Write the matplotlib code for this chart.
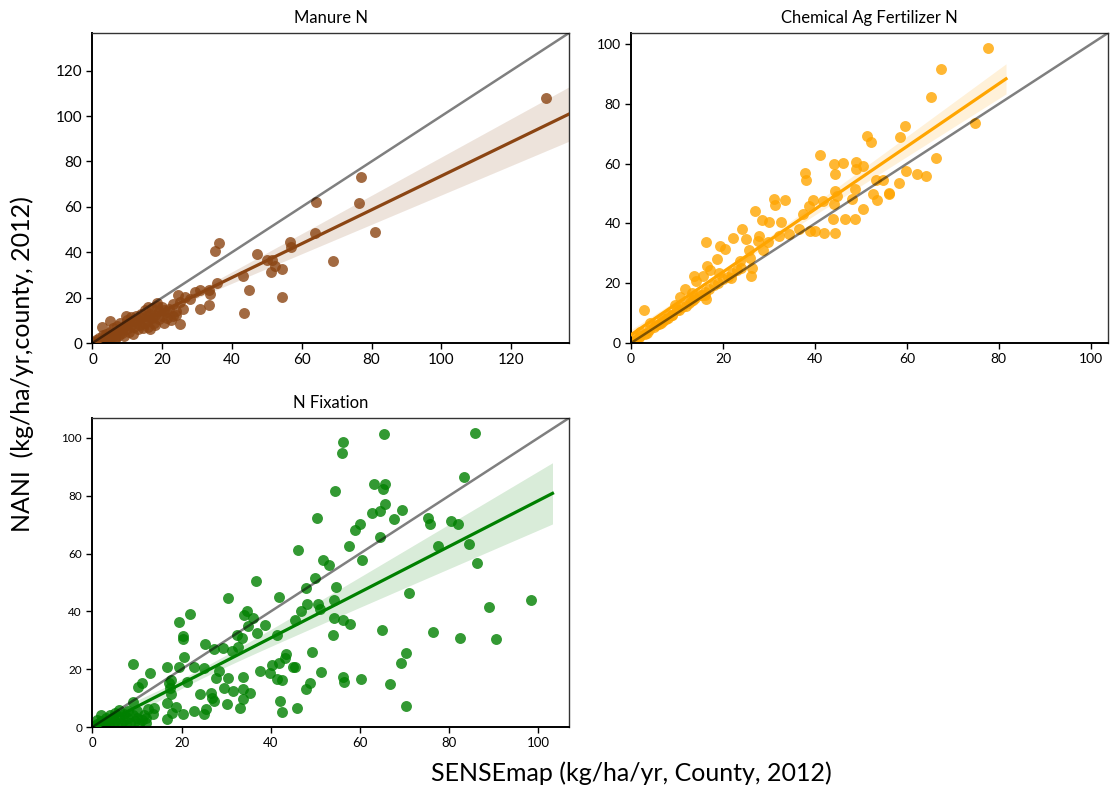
import numpy as np
import matplotlib
matplotlib.use("Agg")
import matplotlib.pyplot as plt

plt.rcParams['font.family'] = ['Lato', 'DejaVu Sans']

# ---------------- data ----------------
# Manure N
manure_x = [130.1, 77.1, 64.2, 76.3, 80.9, 63.8, 56.5, 56.8, 36.4, 35.2, 47.1, 68.9,
            50.1, 51.5, 52.4, 51.3, 54.2, 43.2, 35.7, 45.0, 54.2, 43.5, 33.3, 33.8,
            30.7, 29.5, 30.9, 33.3, 24.5, 26.6, 28.0, 25.1, 24.0, 18.4, 16.0, 9.5,
            5.0, 2.6, 16.5, 6.5,
            0.5, 1.0, 1.5, 2.0, 2.5, 3.0, 3.0, 3.5, 4.0, 4.0, 4.5, 5.0, 5.0, 5.5,
            6.0, 6.0, 6.5, 7.0, 7.0, 7.5, 8.0, 8.0, 8.5, 9.0, 9.0, 9.5, 10.0, 10.0,
            10.5, 11.0, 11.0, 11.5, 12.0, 12.0, 12.5, 13.0, 13.0, 13.5, 14.0, 14.0,
            14.5, 15.0, 15.0, 15.5, 16.0, 16.0, 16.5, 17.0, 17.0, 17.5, 18.0, 18.0,
            19.0, 19.0, 20.0, 20.0, 20.5, 21.0, 21.5, 22.0, 23.0, 23.0, 24.0, 25.0,
            26.0, 20.5, 18.5, 22.5]
manure_y = [107.8, 73.0, 62.2, 61.5, 49.1, 48.5, 44.7, 42.3, 44.1, 40.4, 39.1, 36.0,
            36.7, 36.7, 34.1, 31.3, 32.6, 29.6, 26.4, 23.5, 20.5, 13.1, 23.5, 21.7,
            23.5, 22.4, 15.0, 16.8, 21.2, 20.1, 19.3, 8.4, 12.4, 17.6, 15.8, 12.1,
            9.7, 6.9, 6.0, 2.1,
            0.3, 1.5, 0.5, 2.0, 1.0, 3.5, 1.5, 2.5, 4.0, 1.0, 3.0, 5.0, 2.0, 4.0,
            6.5, 3.0, 1.5, 5.0, 7.5, 3.5, 6.0, 9.0, 4.5, 7.0, 3.0, 8.5, 6.0, 10.0,
            5.0, 8.0, 11.5, 4.0, 7.0, 9.5, 12.0, 6.0, 10.0, 8.0, 13.0, 11.0,
            6.5, 9.0, 14.5, 12.0, 10.0, 7.0, 13.0, 11.0, 15.5, 9.0, 12.5, 8.0,
            14.0, 10.5, 12.0, 16.0, 9.0, 13.5, 11.0, 15.0, 12.0, 17.0, 14.0, 18.0,
            15.0, 14.5, 16.5, 10.0]

# Chemical Ag Fertilizer N
chem_x = [77.7, 67.4, 65.3, 74.9, 59.6, 58.4, 51.3, 52.2, 66.4, 41.0, 44.2, 46.0,
          49.0, 50.5, 49.0, 44.4, 59.7, 62.2, 64.1, 37.9, 38.0, 53.3, 54.7, 58.3,
          44.4, 48.7, 52.6, 56.0, 56.2, 53.4, 48.0, 44.7, 44.2, 41.7, 39.6, 38.6,
          50.4, 31.2, 33.5, 31.4, 27.0, 37.3, 43.9, 46.6, 48.7, 28.5, 30.0, 32.6,
          24.2, 36.6, 39.0, 40.0, 42.0, 44.4, 22.2, 25.1, 27.8, 27.7, 29.7, 32.2,
          34.4, 16.4, 19.3, 20.4, 25.6, 28.6, 18.7, 23.8, 25.8, 26.4, 26.1, 16.5,
          17.1, 13.7, 15.6, 14.2, 19.2, 21.7, 11.8, 13.3, 16.4, 16.0, 10.7, 9.6,
          8.2, 6.7, 2.8, 4.1, 2.0, 0.9,
          5.0, 6.0, 7.0, 8.0, 9.0, 10.0, 10.5, 11.0, 12.0, 12.5, 13.0, 13.5,
          14.0, 15.0, 15.5, 16.0, 17.0, 18.0, 19.0, 20.0, 21.0, 22.0, 23.0, 24.0,
          3.0, 1.5, 0.5, 4.0, 7.5, 9.0, 1.0, 2.0, 3.5, 5.5, 6.5]
chem_y = [98.8, 91.7, 82.4, 73.7, 72.5, 68.9, 69.4, 67.1, 61.9, 63.0, 60.0, 60.2,
          60.5, 59.2, 58.1, 56.5, 57.5, 56.6, 55.8, 56.9, 54.5, 54.7, 54.7, 53.7,
          50.9, 51.6, 50.0, 50.2, 49.8, 47.7, 48.3, 49.1, 46.6, 47.5, 47.8, 45.7,
          44.7, 48.2, 47.8, 46.2, 44.1, 43.2, 41.6, 41.5, 41.5, 41.3, 40.4, 40.5,
          38.1, 38.1, 37.4, 37.4, 36.8, 36.8, 35.2, 34.9, 35.7, 34.2, 33.8, 35.7,
          36.6, 33.9, 32.3, 31.5, 31.2, 31.2, 28.0, 27.3, 28.6, 25.1, 22.3, 25.8,
          24.3, 22.5, 22.5, 20.6, 23.4, 21.8, 18.0, 16.7, 14.7, 16.1, 15.5, 12.8,
          9.4, 8.3, 11.1, 6.6, 3.8, 2.1,
          5.5, 6.5, 7.5, 8.5, 9.5, 11.0, 11.0, 12.0, 12.5, 13.5, 14.0, 14.5,
          15.0, 16.0, 16.0, 17.0, 18.0, 19.5, 20.0, 21.5, 22.0, 23.5, 24.5, 25.0,
          3.0, 1.5, 0.5, 4.5, 8.0, 9.5, 1.0, 2.2, 3.5, 6.0, 6.8]

# N Fixation
fix_x = [85.8, 65.4, 56.2, 55.9, 54.5, 63.2, 65.7, 65.2, 83.3, 65.6, 62.6, 64.5,
         69.5, 67.7, 50.3, 60.1, 58.8, 75.2, 75.8, 80.5, 82.1, 64.4, 57.6, 77.4,
         84.5, 86.2, 46.0, 60.5, 51.7, 53.1, 36.7, 50.0, 47.8, 54.6, 71.0, 98.3,
         30.3, 41.9, 54.1, 48.2, 50.6, 51.1, 46.8, 34.6, 34.0, 36.0, 45.5, 54.1,
         56.1, 57.7, 38.6, 88.9, 76.4, 64.9, 82.4, 90.5, 21.9, 19.3, 20.4, 20.4,
         35.0, 32.4, 33.6, 36.9, 41.4, 54.0, 25.3, 27.3, 29.2, 31.2, 32.6, 20.6,
         9.2, 12.8, 16.7, 19.3, 22.8, 25.1, 11.0, 10.2, 17.6, 17.1, 21.2, 28.4,
         27.8, 30.4, 33.7, 37.5, 39.9, 40.3, 41.8, 43.4, 43.3, 44.9, 45.4, 49.3,
         51.3, 41.3, 42.6, 56.3, 56.4, 60.3, 66.8, 69.1, 70.4, 70.3, 48.9, 47.8,
         29.6, 31.5, 33.7, 35.4, 24.2, 26.6, 26.8, 27.3, 33.7, 42.1, 30.2, 33.1,
         42.5, 45.8, 25.4, 25.1, 22.7, 20.2, 16.8, 18.8, 17.8, 16.8, 13.8, 13.5,
         12.5, 9.2, 17.4, 17.6,
         1.0, 1.5, 2.0, 2.5, 3.0, 3.0, 3.5, 4.0, 4.0, 4.5, 5.0, 5.0, 5.5, 6.0,
         6.0, 6.5, 7.0, 7.0, 7.5, 8.0, 8.0, 8.5, 9.0, 9.5, 10.0, 10.0, 10.5,
         11.0, 11.5, 12.0, 12.0, 2.0, 1.0, 0.5]
fix_y = [101.8, 101.2, 98.6, 94.9, 81.8, 84.1, 84.2, 82.5, 86.5, 77.0, 73.9, 74.6,
         75.2, 71.8, 72.2, 70.2, 68.3, 72.4, 70.4, 71.4, 70.4, 65.9, 62.7, 62.5,
         63.4, 56.6, 61.4, 57.7, 57.9, 56.2, 50.6, 51.5, 48.1, 48.3, 46.3, 43.8,
         44.8, 45.1, 43.9, 42.5, 42.7, 40.9, 40.0, 40.0, 38.8, 37.7, 37.0, 37.6,
         36.9, 35.8, 35.4, 41.4, 32.7, 33.6, 30.8, 30.6, 39.1, 36.5, 31.5, 30.5,
         35.0, 31.9, 30.7, 32.4, 31.9, 31.9, 28.7, 26.9, 27.3, 26.3, 27.6, 24.3,
         21.8, 18.7, 20.6, 20.9, 20.9, 20.3, 15.4, 14.0, 16.3, 15.1, 15.7, 19.4,
         16.9, 16.9, 17.4, 19.4, 18.7, 21.5, 22.1, 25.2, 23.8, 20.7, 20.7, 25.8,
         19.1, 16.5, 16.3, 17.4, 15.7, 16.5, 15.0, 22.1, 25.5, 7.3, 15.4, 13.2,
         13.4, 12.6, 13.1, 11.7, 11.4, 11.6, 9.9, 9.0, 9.6, 9.1, 7.9, 6.5,
         5.3, 6.5, 6.2, 4.5, 5.5, 4.4, 8.2, 7.0, 5.0, 2.8, 6.5, 4.4,
         6.2, 8.8, 13.4, 11.3,
         1.0, 0.5, 2.0, 1.0, 3.0, 0.5, 2.0, 4.0, 1.5, 3.0, 5.0, 2.0, 0.5, 3.5,
         6.0, 1.5, 4.5, 2.5, 0.8, 5.5, 3.0, 1.5, 4.0, 2.0, 3.0, 5.5, 1.0,
         2.5, 4.0, 1.5, 3.0, 4.0, 2.5, 0.3]

panels = [
    ("Manure N", manure_x, manure_y, "saddlebrown", 11, 11),
    ("Chemical Ag Fertilizer N", chem_x, chem_y, "orange", 10, 10),
    ("N Fixation", fix_x, fix_y, "green", 9.5, 8.5),
]


def draw_panel(ax, title, xs, ys, color, xfs, yfs):
    x = np.asarray(xs)
    y = np.asarray(ys)
    # regression line extends over the data range plus default margins
    pad = 0.05 * (x.max() - x.min())
    grid = np.linspace(x.min() - pad, x.max() + pad, 100)
    X = np.column_stack([np.ones_like(x), x])
    XtX_inv = np.linalg.inv(X.T @ X)
    beta = XtX_inv @ X.T @ y
    resid = y - X @ beta
    # robust (HC3) covariance, close to a bootstrap band
    h = np.sum(X @ XtX_inv * X, axis=1)
    w = resid ** 2 / (1 - h) ** 2
    cov = XtX_inv @ (X.T * w) @ X @ XtX_inv
    G = np.column_stack([np.ones_like(grid), grid])
    fit = G @ beta
    se = np.sqrt(np.sum(G @ cov * G, axis=1))
    ax.scatter(x, y, s=62, color=color, alpha=0.8, linewidths=0, zorder=2)
    ax.fill_between(grid, fit - 1.96 * se, fit + 1.96 * se, color=color,
                    alpha=0.15, linewidth=0, zorder=1)
    ax.plot(grid, fit, color=color, lw=2.3, zorder=3)
    lim = 1.05 * max(x.max(), y.max())
    ax.plot([0, lim], [0, lim], color="k", alpha=0.5, lw=1.8, zorder=4)
    ax.set_xlim(0, lim)
    ax.set_ylim(0, lim)
    ax.set_title(title, fontsize=12, pad=7)
    ax.tick_params(axis="x", labelsize=xfs, length=4, width=1)
    ax.tick_params(axis="y", labelsize=yfs, length=4, width=1)
    for side in ["left", "bottom"]:
        ax.spines[side].set_linewidth(1.4)
    for side in ["top", "right"]:
        ax.spines[side].set_linewidth(1.0)
        ax.spines[side].set_color("#333333")


fig = plt.figure(figsize=(11.1, 7.97), dpi=100)
boxes = [
    [0.0833, 0.5696, 0.4293, 0.389],
    [0.5685, 0.5696, 0.4297, 0.389],
    [0.0833, 0.0878, 0.4293, 0.3877],
]
for box, (title, xs, ys, color, xfs, yfs) in zip(boxes, panels):
    ax = fig.add_axes(box)
    draw_panel(ax, title, xs, ys, color, xfs, yfs)

fig.text(0.02, 0.543, "NANI  (kg/ha/yr,county, 2012)", rotation=90,
         ha="center", va="center", fontsize=18)
fig.text(0.569, 0.030, "SENSEmap (kg/ha/yr, County, 2012)",
         ha="center", va="center", fontsize=18)

fig.savefig("out.png", dpi=100)
